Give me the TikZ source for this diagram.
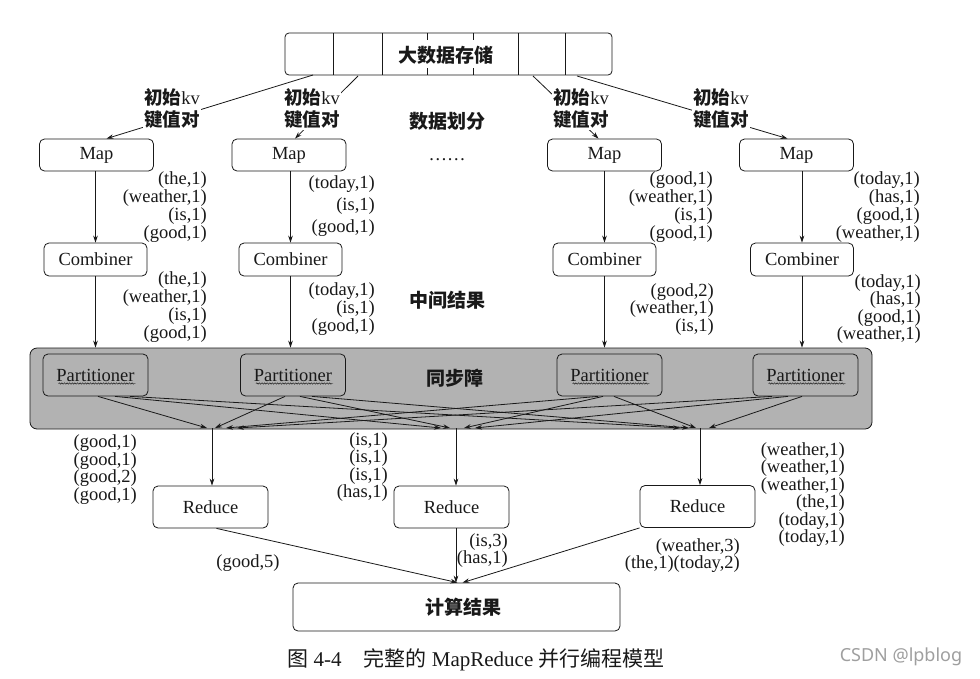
\documentclass[tikz,border=0pt]{standalone}
\usepackage{fontspec}
\setmainfont{Liberation Serif}
\newfontfamily\cjk{Noto Sans CJK SC}
\newfontfamily\wmfont{Noto Sans}
\usetikzlibrary{arrows.meta,decorations.pathmorphing,calc}
\newcommand\zhs[1]{{\cjk\bfseries #1}}
\newcommand\zhr[1]{{\cjk #1}}
\definecolor{bandgray}{gray}{0.70}
\definecolor{ink}{gray}{0.10}
\begin{document}
\begin{tikzpicture}[x=1pt,y=-1pt,
  every node/.style={font=\fontsize{18.5}{18.5}\selectfont, text=ink},
  box/.style={draw=ink, line width=0.8pt, rounded corners=5pt, fill=white, inner sep=0pt},
  mapbox/.style={box, minimum width=114pt, minimum height=32pt},
  combbox/.style={box, minimum width=103pt, minimum height=33pt},
  pbox/.style={box, fill=bandgray, minimum width=105pt, minimum height=42pt},
  redbox/.style={box, minimum width=115pt, minimum height=42pt},
  arr/.style={draw=ink, line width=0.8pt, -{Stealth[length=7pt,width=4.6pt]}},
  plain/.style={draw=ink, line width=0.8pt},
  kv/.style={align=right, anchor=east, inner sep=0pt, font=\fontsize{18.5}{16.7}\selectfont},
  kvwide/.style={kv, font=\fontsize{18.5}{22}\selectfont},
  kvmid/.style={kv, font=\fontsize{18.5}{17.4}\selectfont},
  lbl/.style={fill=white, align=left, inner sep=1.5pt, font=\fontsize{18.5}{22}\selectfont},
  zhnote/.style={font=\fontsize{19}{19}\selectfont},
  wavy/.style={draw=ink, line width=0.45pt, decorate, decoration={snake, amplitude=0.7pt, segment length=2.6pt}},
]
\useasboundingbox (0,0) rectangle (980,678);
\fill[white] (0,0) rectangle (980,678);

% storage
\node[box, rounded corners=4pt, minimum width=327pt, minimum height=42pt] (store) at (448.5,54) {};
\foreach \x in {333,382,518,565} \draw[plain] (\x,33) -- (\x,75);
\foreach \x in {427,473} {\draw[plain] (\x,33) -- (\x,40); \draw[plain] (\x,68) -- (\x,75);}
\node[zhnote] (storetxt) at (446,55) {\zhs{大数据存储}};

% maps
\node[mapbox] (m1) at (96.5,155) {Map};
\node[mapbox] (m2) at (289,155) {Map};
\node[mapbox] (m3) at (604.5,155) {Map};
\node[mapbox] (m4) at (796.5,155) {Map};

% storage -> map lines with labels
\coordinate (s1) at (313,75);
\coordinate (s2) at (358,76);
\coordinate (s3) at (533,76);
\coordinate (s4) at (577,76);
\draw[arr] (s1) -- ([xshift=10pt]m1.north);
\draw[arr] (s2) -- ([xshift=6pt]m2.north);
\draw[arr] (s3) -- ([xshift=-6pt]m3.north);
\draw[arr] (s4) -- ([xshift=-9pt]m4.north);
\node[lbl] (l1) at (172,109) {\zhs{初始}kv\\\zhs{键值对}};
\node[lbl] (l2) at (312,109) {\zhs{初始}kv\\\zhs{键值对}};
\node[lbl] (l3) at (581,109) {\zhs{初始}kv\\\zhs{键值对}};
\node[lbl] (l4) at (721,109) {\zhs{初始}kv\\\zhs{键值对}};

\node[zhnote] (split) at (447,121) {\zhs{数据划分}};
\node[anchor=base] (dots) at (447,160) {……};

% combiners
\node[combbox] (c1) at (95.5,259.5) {Combiner};
\node[combbox] (c2) at (290.5,259.5) {Combiner};
\node[combbox] (c3) at (604.5,259.5) {Combiner};
\node[combbox] (c4) at (802,259.5) {Combiner};

\draw[arr] (c1.north |- m1.south) -- (c1.north);
\draw[arr] (c2.north |- m2.south) -- (c2.north);
\draw[arr] (c3.north |- m3.south) -- (c3.north);
\draw[arr] (c4.north |- m4.south) -- (c4.north);

\node[kv] (b1) at (207,207) {(the,1)\\(weather,1)\\(is,1)\\(good,1)};
\node[kvwide] (b2) at (375,206) {(today,1)\\(is,1)\\(good,1)};
\node[kv] (b3) at (713,207) {(good,1)\\(weather,1)\\(is,1)\\(good,1)};
\node[kv] (b4) at (920,207) {(today,1)\\(has,1)\\(good,1)\\(weather,1)};

\node[zhnote] (mid) at (447,300) {\zhs{中间结果}};

% band
\node[draw=ink, line width=0.8pt, fill=bandgray, rounded corners=7pt, minimum width=842pt, minimum height=81pt, inner sep=0pt] (band) at (451,388.5) {};

\draw[arr] (c1.south) -- (c1.south |- band.north);
\draw[arr] (c2.south) -- (c2.south |- band.north);
\draw[arr] (c3.south) -- (c3.south |- band.north);
\draw[arr] (c4.south) -- (c4.south |- band.north);

\node[kv] (d1) at (207,307) {(the,1)\\(weather,1)\\(is,1)\\(good,1)};
\node[kv] (d2) at (375,309) {(today,1)\\(is,1)\\(good,1)};
\node[kvmid] (d3) at (714,309.5) {(good,2)\\(weather,1)\\(is,1)};
\node[kvmid] (d4) at (921,309) {(today,1)\\(has,1)\\(good,1)\\(weather,1)};

% partitioners
\node[pbox] (p1) at (95.5,375) {Partitioner};
\node[pbox] (p2) at (293,375) {Partitioner};
\node[pbox] (p3) at (609.5,375) {Partitioner};
\node[pbox] (p4) at (805.5,375) {Partitioner};
\foreach \p in {p1,p2,p3,p4}
  \draw[wavy] ($(\p.center)+(-37,8.5)$) -- ($(\p.center)+(40,8.5)$);

\node[zhnote] (sync) at (455,378) {\zhs{同步障}};

% convergence points
\coordinate (k1) at (212,428);
\coordinate (k2) at (456,428);
\coordinate (k3) at (700,428);

% crossing shuffle arrows
\draw[arr] ($(p1.south)+(2.5,0)$)  -- ($(k1)+(-5,0)$);
\draw[arr] ($(p1.south)+(19.5,0)$) -- ($(k2)+(-15,0)$);
\draw[arr] ($(p1.south)+(34.5,0)$) -- ($(k3)+(-20,0)$);
\draw[arr] ($(p2.south)+(-8,0)$)   -- ($(k1)+(3,0)$);
\draw[arr] ($(p2.south)+(7,0)$)    -- ($(k2)+(-6,0)$);
\draw[arr] ($(p2.south)+(19,0)$)   -- ($(k3)+(-11,0)$);
\draw[arr] ($(p3.south)+(-11.5,0)$) -- ($(k1)+(14,0)$);
\draw[arr] ($(p3.south)+(-6.5,0)$)  -- ($(k2)+(8,0)$);
\draw[arr] ($(p3.south)+(4.5,0)$)   -- ($(k3)+(-4,0)$);
\draw[arr] ($(p4.south)+(-33.5,0)$) -- ($(k1)+(25,0)$);
\draw[arr] ($(p4.south)+(-17.5,0)$) -- ($(k2)+(19,0)$);
\draw[arr] ($(p4.south)+(-3.5,0)$)  -- ($(k3)+(9,0)$);

% reduces
\node[redbox] (r1) at (210.5,507) {Reduce};
\node[redbox] (r2) at (451.5,507) {Reduce};
\node[redbox] (r3) at (697.5,506.5) {Reduce};

\draw[arr] (k1) -- (k1 |- r1.north);
\draw[arr] (k2) -- (k2 |- r2.north);
\draw[arr] (k3) -- (k3 |- r3.north);

\node[kvmid] (e1) at (137,469.5) {(good,1)\\(good,1)\\(good,2)\\(good,1)};
\node[kvmid] (e2) at (388,467) {(is,1)\\(is,1)\\(is,1)\\(has,1)};
\node[kvmid] (e3) at (845,494.5) {(weather,1)\\(weather,1)\\(weather,1)\\(the,1)\\(today,1)\\(today,1)};

% result
\node[box, minimum width=327pt, minimum height=48pt] (res) at (456.5,607) {};
\node[zhnote] (restxt) at (463,607) {\zhs{计算结果}};

\draw[arr] ([xshift=6pt]r1.south) -- ([xshift=1pt]res.north);
\draw[arr] (k2 |- r2.south) -- (k2 |- res.north);
\draw[arr] (r3.south west) -- ([xshift=6pt]res.north);

\node (o1) at (248,563) {(good,5)};
\node[kv, font=\fontsize{18.5}{16}\selectfont] (o2) at (508,550.5) {(is,3)\\(has,1)};
\node[kv, font=\fontsize{18.5}{17}\selectfont] (o3) at (740,555.5) {(weather,3)\\(the,1)(today,2)};

% caption and watermark
\node[font=\fontsize{21}{21}\selectfont] (cap) at (476,660) {\zhr{图} 4-4\hspace{22pt}\zhr{完整的} MapReduce \zhr{并行编程模型}};
\node[font=\fontsize{18}{18}\wmfont, text=gray!75] (wm) at (901,657) {CSDN @lpblog};
\end{tikzpicture}
\end{document}
